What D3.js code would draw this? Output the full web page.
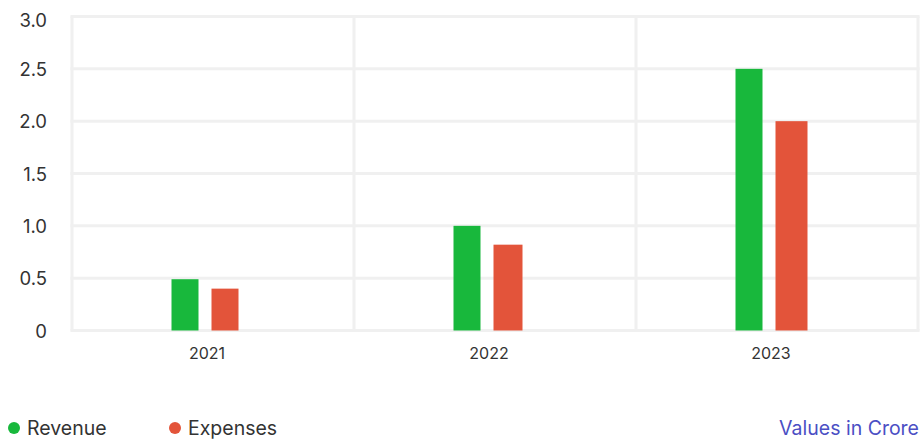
<!DOCTYPE html>
<html>
<head>
<meta charset="utf-8">
<script src="https://cdn.jsdelivr.net/npm/d3@7"></script>
<style>
  html, body { margin: 0; padding: 0; background: #fff; }
  svg { display: block; font-family: Inter, "Open Sans", sans-serif; }
</style>
</head>
<body>
<svg id="chart" width="923" height="439"></svg>
<script>
// Data
const years = ["2021", "2022", "2023"];
const revenue = [0.49, 1.0, 2.5];
const expenses = [0.4, 0.82, 2.0];
const yTicks = [0, 0.5, 1.0, 1.5, 2.0, 2.5, 3.0];
const yTickLabels = ["0", "0.5", "1.0", "1.5", "2.0", "2.5", "3.0"];
const seriesNames = ["Revenue", "Expenses"];

// Style
const colors = { Revenue: "#18b83c", Expenses: "#e3543a" };
const gridColor = "#f0f0f0";
const margin = { left: 72, right: 5, top: 16.5, bottom: 108.5 };
const W = 923, H = 439;

const svg = d3.select("#chart");

const x = d3.scaleBand()
  .domain(years)
  .range([margin.left, W - margin.right])
  .padding(0);

const y = d3.scaleLinear()
  .domain([0, 3.0])
  .range([H - margin.bottom, margin.top]);

// Horizontal grid lines
svg.append("g")
  .selectAll("line")
  .data(yTicks)
  .join("line")
  .attr("x1", margin.left - 1.5)
  .attr("x2", W - margin.right + 1.5)
  .attr("y1", d => y(d))
  .attr("y2", d => y(d))
  .attr("stroke", gridColor)
  .attr("stroke-width", 3);

// Vertical band separators
const bandEdges = years.map(d => x(d)).concat([x(years[years.length - 1]) + x.bandwidth()]);
svg.append("g")
  .selectAll("line")
  .data(bandEdges)
  .join("line")
  .attr("x1", d => d)
  .attr("x2", d => d)
  .attr("y1", y(3.0))
  .attr("y2", y(0))
  .attr("stroke", gridColor)
  .attr("stroke-width", 3);

// Y axis labels
svg.append("g")
  .selectAll("text")
  .data(yTicks)
  .join("text")
  .attr("x", 47)
  .attr("y", d => Math.max(y(d), 20))
  .attr("text-anchor", "end")
  .attr("dominant-baseline", "central")
  .attr("font-size", 18.5)
  .attr("fill", "#333")
  .text((d, i) => yTickLabels[i]);

// X axis labels
svg.append("g")
  .selectAll("text")
  .data(years)
  .join("text")
  .attr("x", d => x(d) + x.bandwidth() / 2 - 6)
  .attr("y", 353)
  .attr("text-anchor", "middle")
  .attr("dominant-baseline", "central")
  .attr("font-size", 16)
  .attr("fill", "#333")
  .text(d => d);

// Bars
const barW = 27;
const expenseBarW = [27, 29, 32];
const center = d => x(d) + x.bandwidth() / 2;

svg.append("g")
  .selectAll("rect")
  .data(years.map((yr, i) => ({ yr, v: revenue[i] })))
  .join("rect")
  .attr("x", d => center(d.yr) - 41.5)
  .attr("y", d => y(d.v))
  .attr("width", barW)
  .attr("height", d => y(0) - y(d.v))
  .attr("fill", colors.Revenue);

svg.append("g")
  .selectAll("rect")
  .data(years.map((yr, i) => ({ yr, v: expenses[i], i })))
  .join("rect")
  .attr("x", d => center(d.yr) - 1.5)
  .attr("y", d => y(d.v))
  .attr("width", d => expenseBarW[d.i])
  .attr("height", d => y(0) - y(d.v))
  .attr("fill", colors.Expenses);

// Legend
const legendX = [14, 175];
const legend = svg.append("g")
  .selectAll("g")
  .data(seriesNames)
  .join("g")
  .attr("transform", (d, i) => `translate(${legendX[i]},428)`);
legend.append("circle")
  .attr("r", 6)
  .attr("fill", d => colors[d]);
legend.append("text")
  .attr("x", 13)
  .attr("dominant-baseline", "central")
  .attr("font-size", 19.5)
  .attr("fill", "#333")
  .text(d => d);

svg.append("text")
  .attr("x", 919)
  .attr("y", 428)
  .attr("text-anchor", "end")
  .attr("dominant-baseline", "central")
  .attr("font-size", 19.5)
  .attr("fill", "#4b4fc4")
  .text("Values in Crore");
</script>
</body>
</html>
